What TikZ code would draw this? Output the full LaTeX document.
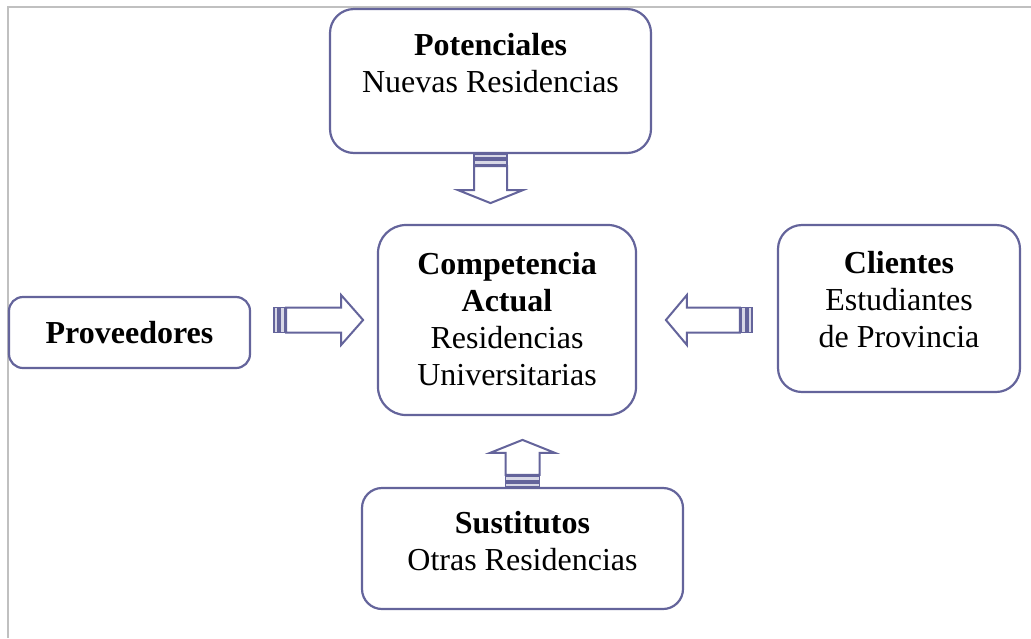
\documentclass[tikz,border=0pt]{standalone}
\usepackage{fontspec}
\setmainfont{Liberation Serif}
\usetikzlibrary{calc}
\definecolor{boxc}{RGB}{100,100,155}
\definecolor{framec}{RGB}{192,192,192}
\tikzset{
  box/.style={draw=boxc, line width=1.1pt, rounded corners=#1, fill=white, inner sep=0pt},
  lbl/.style={align=center, anchor=base, inner sep=0pt, font=\fontsize{16}{18.5}\selectfont},
  arr/.style={draw=boxc, line width=1pt, fill=white, line join=miter},
  bar/.style={draw=boxc, line width=0.8pt, fill=boxc!25},
}
% #1 start, #2 angle, #3 total length, #4 shaft half width, #5 head half width, #6 head length
\newcommand\stripedarrow[6]{%
  \begin{scope}[shift={#1}, rotate=#2]
    \draw[bar] (0,-#4) rectangle (4,#4);
    \draw[bar] (6,-#4) rectangle (11,#4);
    \draw[arr] (12,-#4) -- ({#3-#6},-#4) -- ({#3-#6},-#5) -- (#3,0)
      -- ({#3-#6},#5) -- ({#3-#6},#4) -- (12,#4) -- cycle;
  \end{scope}}
\begin{document}
\begin{tikzpicture}[x=0.5pt,y=-0.5pt]
\useasboundingbox (0,0) rectangle (1031,638);
\draw[framec, line width=1pt] (8,638) -- (8,7) -- (1031,7);

\node[box=12pt, minimum width=160.5pt, minimum height=72pt] (pot) at (490.5,81) {};
\node[box=14pt, minimum width=129pt, minimum height=95pt] (comp) at (507,320) {};
\node[box=12pt, minimum width=121pt, minimum height=83.5pt] (cli) at (899,308.5) {};
\node[box=7pt, minimum width=120.5pt, minimum height=35.5pt] (prov) at (129.5,332.5) {};
\node[box=10pt, minimum width=160.5pt, minimum height=60.5pt] (sus) at (522.5,548.5) {};

\node[lbl] (potT) at (490.5,92) {\textbf{Potenciales}\\Nuevas Residencias};
\node[lbl] (compT) at (507,385) {\textbf{Competencia}\\\textbf{Actual}\\Residencias\\Universitarias};
\node[lbl] (cliT) at (899,347) {\textbf{Clientes}\\Estudiantes\\de Provincia};
\node[lbl] (provT) at (129.5,343) {\textbf{Proveedores}};
\node[lbl] (susT) at (522.5,570) {\textbf{Sustitutos}\\Otras Residencias};

\stripedarrow{(pot.south)}{-90}{49}{16.5}{32.5}{13}
\stripedarrow{(sus.north)}{90}{47}{17}{32.5}{13}
\stripedarrow{($(prov.east |- comp.center)+(23,0)$)}{0}{89}{12.5}{25}{22}
\stripedarrow{($(cli.west |- comp.center)+(-25,0)$)}{180}{86}{12.5}{25}{21}
\end{tikzpicture}
\end{document}
